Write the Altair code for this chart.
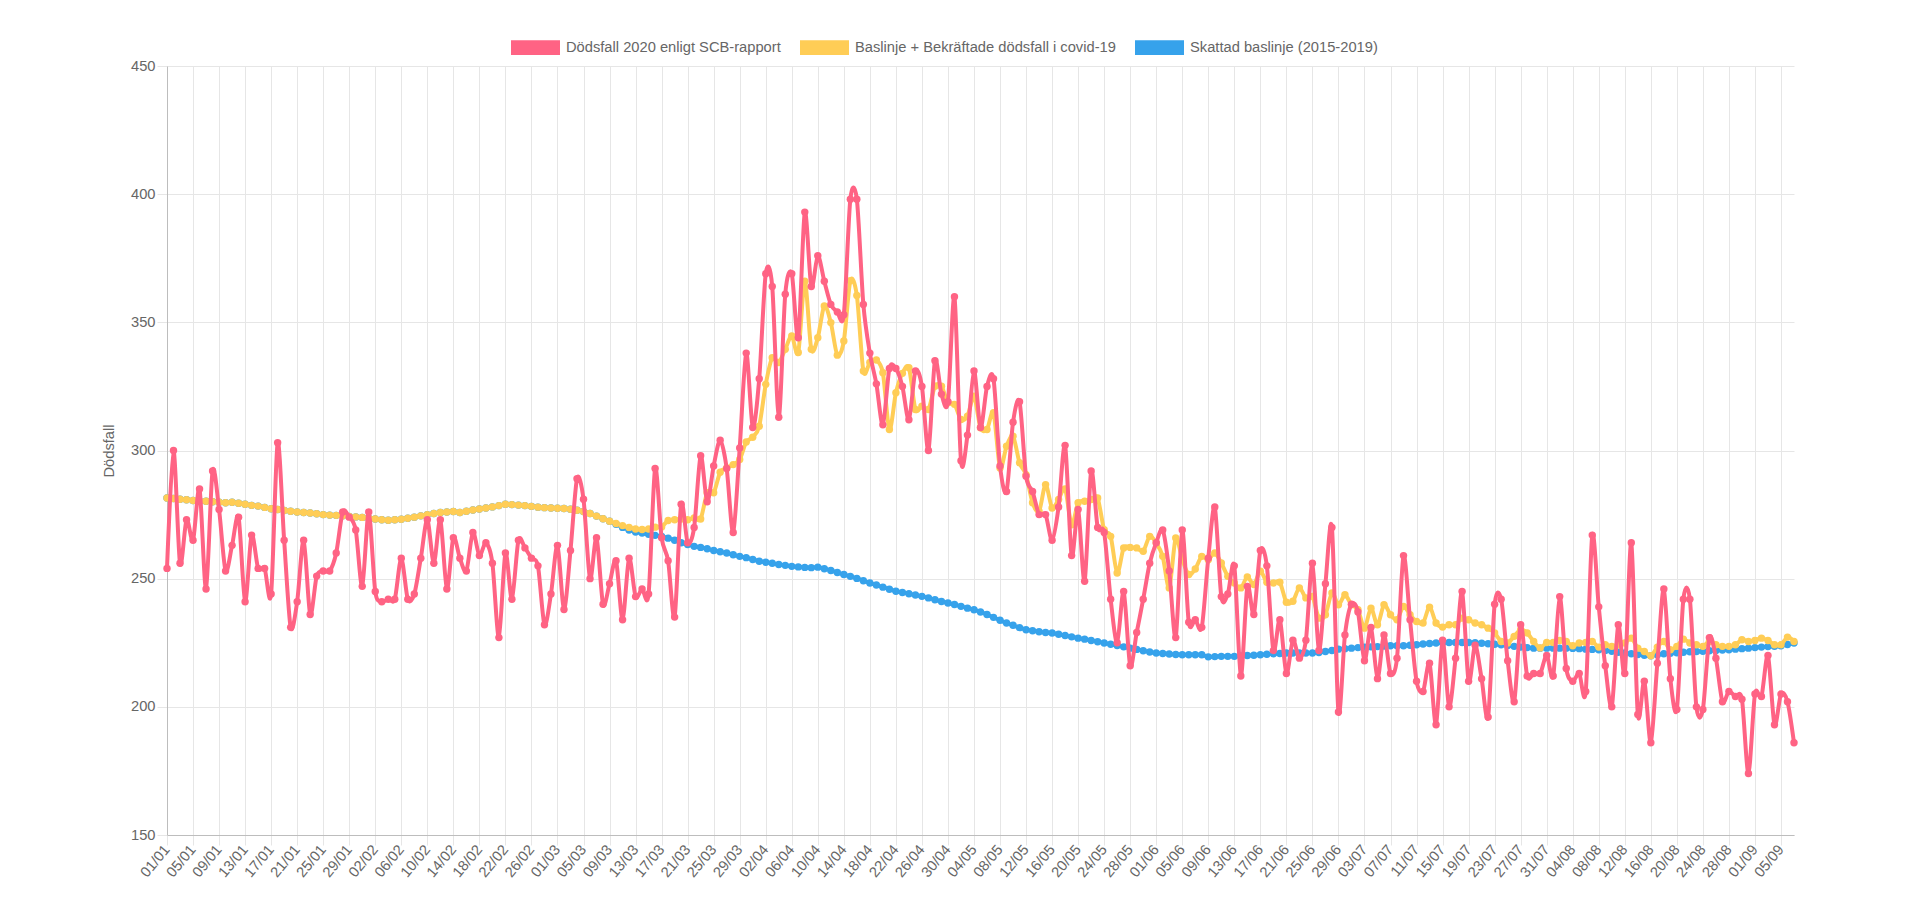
import altair as alt
import pandas as pd

# ---------------- data ----------------
month_days = [31, 29, 31, 30, 31, 30, 31, 31, 30]
date_labels = []
for m, nd in enumerate(month_days, start=1):
    for d in range(1, nd + 1):
        date_labels.append(f"{d:02d}/{m:02d}")
date_labels = date_labels[:251]
tick_labels = date_labels[::4]

y_ticks = [150, 200, 250, 300, 350, 400, 450]

name_red = "Dödsfall 2020 enligt SCB-rapport"
name_yellow = "Baslinje + Bekräftade dödsfall i covid-19"
name_blue = "Skattad baslinje (2015-2019)"

red = [
    254, 300, 256, 273, 265, 285, 246, 292, 277, 253,
    263, 274, 241, 267, 254, 254, 244, 303, 265, 231,
    241, 265, 236, 251, 253, 253, 260, 276, 274, 269,
    247, 276, 245, 241, 242, 242, 258, 242, 244, 258,
    273, 256, 273, 246, 266, 258, 253, 268, 259, 264,
    256, 227, 260, 242, 265, 262, 258, 255, 232, 244,
    263, 238, 261, 289, 281, 250,
    266, 240, 248, 257, 234, 258, 243, 246, 244, 293,
    266, 257, 235, 279, 264, 270, 298, 280, 294, 304,
    293, 268, 301, 338, 309, 328, 369, 364, 313, 361,
    369, 344, 393, 364, 376, 366, 357, 354, 353, 398,
    398, 357, 338, 326, 310, 332, 332, 325, 312, 331,
    325, 300, 335, 322, 319, 360, 296, 306, 331, 309,
    325, 328, 294, 284,
    311, 319, 290, 284, 275, 275, 265, 278, 302, 259,
    277, 249, 292, 270, 268, 242, 225, 245, 216, 229,
    242, 256, 264, 269, 253, 227, 269, 233, 234, 231,
    258, 278, 243, 244, 255, 212, 247, 236, 261, 255,
    222, 234, 213, 226, 219, 226, 256, 222, 248, 270,
    198, 228, 240, 237, 218, 231, 211, 228, 213, 219,
    259, 234, 210,
    206, 217, 193, 226, 200, 219, 245, 210, 224, 211,
    196, 240, 242, 218, 202, 232, 212, 213, 213, 220,
    212, 243, 215, 210, 213, 206, 267, 239, 216, 200,
    232, 213, 264, 197, 210, 186, 217, 246, 211, 199,
    242, 242, 200, 199, 227, 219, 202, 206, 204, 203,
    174, 205, 204, 220, 193, 205, 202, 186,
]

yellow = [
    281.5, 281.3, 281.0, 280.8, 280.5, 280.3, 280.2, 280.0, 279.8, 279.6,
    279.8, 279.4, 279.0, 278.6, 278.3, 277.8, 277.3, 277.0, 276.6, 276.3,
    276.0, 275.8, 275.6, 275.3, 275.0, 274.8, 274.7, 274.5, 274.3, 274.1,
    273.9, 273.6, 273.3, 273.0, 272.8, 273.0, 273.2, 273.6, 274.0, 274.5,
    275.0, 275.4, 275.8, 276.0, 276.2, 275.8, 276.3, 276.8, 277.2, 277.6,
    278.0, 278.5, 279.0, 278.9, 278.7, 278.5, 278.2, 277.9, 277.7, 277.6,
    277.5, 277.4, 277.1, 276.7, 276.2, 275.4,
    274.4, 273.4, 272.4, 271.5, 270.7, 270.0, 269.4, 269.2, 269.4, 270.1,
    270.2, 272.7, 273.0, 273.3, 273.0, 273.7, 273.3,
    283.5, 283.5, 291.5, 293.2, 294.5, 296.5, 303.3, 305.2, 309.5, 325.8,
    336.2, 334.3, 339.5, 344.7, 338.2, 366.0, 339.5, 344.0, 356.4, 349.9,
    337.2, 342.7, 366.2, 360.5, 331.0, 334.3, 335.3, 330.3, 308.2, 322.5,
    330.1, 332.3, 316.0, 317.3, 316.0, 325.1, 325.1, 318.6, 318.0, 312.1,
    313.4, 321.2, 308.9, 308.2, 314.7, 293.2, 301.7,
    305.6, 295.2, 290.6, 279.6, 276.3, 286.7, 277.6, 280.9, 285.0, 271.0,
    279.6, 280.2, 280.9, 281.5, 269.1, 266.5, 252.2, 262.0, 262.2, 262.0,
    260.7, 266.5, 263.9, 258.7, 246.4, 265.9, 257.4, 251.6, 253.8, 258.7,
    257.4, 260.0, 256.1, 250.9, 248.3, 246.4, 250.7, 247.7, 252.9, 248.6,
    248.3, 248.6, 240.8, 241.2, 246.4, 242.5, 243.1, 234.6, 235.9, 244.4,
    239.8, 243.7, 239.8, 237.9, 230.7, 238.5, 232.0, 239.8, 235.9, 234.0,
    239.2, 235.9, 233.3,
    232.7, 238.9, 232.7, 231.1, 232.0, 232.0, 234.6, 234.0, 232.7, 232.0,
    230.7, 228.8, 225.5, 224.9, 227.5, 230.1, 228.8, 225.5, 223.0, 225.1,
    225.1, 225.9, 225.5, 223.8, 224.9, 225.1, 225.5, 223.3, 224.2, 223.6,
    224.2, 224.9, 226.8, 222.9, 221.6, 219.9, 223.3, 225.5, 222.3, 223.6,
    226.4, 224.9, 224.2, 223.6, 225.5, 224.2, 223.6, 223.6, 224.2, 226.2,
    225.5, 225.9, 226.8, 225.9, 224.2, 224.2, 227.2, 225.5,
]

blue = [
    281.5, 281.3, 281.0, 280.8, 280.5, 280.3, 280.2, 280.0, 279.8, 279.6,
    279.8, 279.4, 279.0, 278.6, 278.3, 277.8, 277.3, 277.0, 276.6, 276.3,
    276.0, 275.8, 275.6, 275.3, 275.0, 274.8, 274.7, 274.5, 274.3, 274.1,
    273.9, 273.6, 273.3, 273.0, 272.8, 273.0, 273.2, 273.6, 274.0, 274.5,
    275.0, 275.4, 275.8, 276.0, 276.2, 275.8, 276.3, 276.8, 277.2, 277.6,
    278.0, 278.5, 279.0, 278.9, 278.7, 278.5, 278.2, 277.9, 277.7, 277.6,
    277.5, 277.4, 277.1, 276.7,
    276.2, 275.4, 274.4, 273.4, 272.4, 271.2, 270.0, 269.0, 268.2, 267.8,
    267.3, 266.9, 266.5, 265.8, 265.0, 264.0, 263.3, 262.6, 262.2, 261.7,
    261.0, 260.5, 260.0, 259.3, 258.7, 258.2, 257.5, 256.8, 256.4, 256.0,
    255.5, 255.2, 254.8, 254.6, 254.4, 254.3, 254.5, 253.9, 253.2, 252.4,
    251.6, 250.9, 250.1, 249.2, 248.3, 247.5, 246.7, 245.9, 245.1, 244.6,
    244.1, 243.6, 243.1, 242.5, 241.8, 241.1, 240.5, 239.9, 239.2, 238.5,
    237.9, 237.0, 236.0, 234.9, 233.8, 232.7, 231.8, 230.9, 230.1, 229.7,
    229.3, 229.0, 228.8, 228.3, 227.8, 227.3, 226.8, 226.4, 225.9, 225.4,
    224.9, 224.4, 223.9, 223.4, 222.9, 222.4, 221.9, 221.4, 221.0, 220.8,
    220.6, 220.4, 220.3, 220.3, 220.3, 220.3, 219.5, 219.6, 219.7, 219.7,
    219.7, 219.8, 220.0, 220.1, 220.3, 220.5, 220.7, 220.8, 221.0, 221.0,
    221.0, 221.0, 221.0, 221.2, 221.6, 222.0, 222.5, 222.7, 222.9, 223.1,
    223.3, 223.4, 223.5, 223.7, 223.8, 223.8, 223.8, 224.0, 224.2, 224.5,
    224.7, 224.9, 225.0, 225.1, 225.1, 225.1, 225.1, 225.0, 224.8, 224.6,
    224.4, 224.2, 223.9, 223.6, 223.3, 223.1, 222.9, 222.9, 222.9, 222.9,
    222.9, 222.9, 222.8, 222.7, 222.5, 222.4, 222.3, 222.0, 221.7, 221.3,
    221.0, 220.7, 220.4, 220.1, 219.9, 220.3, 220.7, 220.9, 221.1, 221.3,
    221.5, 221.6, 221.7, 221.9, 222.0, 222.2, 222.3, 222.5, 222.7, 222.9,
    223.1, 223.3, 223.5, 223.6, 223.8, 224.3, 224.9,
]

series_names = [name_red, name_yellow, name_blue]
series_colors = ["#ff6384", "#ffcd56", "#36a2eb"]

rows = []
for name, vals in [(name_red, red), (name_yellow, yellow), (name_blue, blue)]:
    for lab, v in zip(date_labels, vals):
        rows.append({"date": lab, "series": name, "value": v})
df = pd.DataFrame(rows)

FONT = "Liberation Sans"
FS = 14.7
GRID = "#e6e6e6"

x_enc = alt.X(
    "date:N",
    sort=date_labels,
    scale=alt.Scale(type="point", padding=0),
    axis=alt.Axis(
        values=tick_labels, title=None, grid=True, gridColor=GRID,
        labelAngle=-50, labelFontSize=FS, labelFont=FONT, labelColor="#666",
        tickSize=10, tickColor=GRID, labelPadding=2,
        domainColor="#bdbdbd", labelOverlap=False,
    ),
)
y_enc = alt.Y(
    "value:Q",
    scale=alt.Scale(domain=[150, 450], nice=False, zero=False),
    axis=alt.Axis(
        values=y_ticks, title="Dödsfall", grid=True, gridColor=GRID,
        labelFontSize=FS, labelFont=FONT, labelColor="#666",
        titleFont=FONT, titleFontSize=FS, titleColor="#666", titleFontWeight="normal",
        titlePadding=14, tickSize=10, tickColor=GRID, labelPadding=2,
        domainColor="#bdbdbd",
    ),
)

color_scale = alt.Scale(domain=series_names, range=series_colors)
legend = alt.Legend(
    orient="none", legendX=344, legendY=-43, direction="horizontal", title=None,
    symbolType="M-1,-0.3L1,-0.3L1,0.3L-1,0.3Z", symbolSize=2401,
    symbolStrokeWidth=0, symbolOpacity=1,
    labelFontSize=FS, labelFont=FONT, labelColor="#666", labelLimit=600,
    labelOffset=6, columnPadding=19,
)


def series_layer(name):
    base = alt.Chart(df).transform_filter(alt.datum.series == name)
    line = base.mark_line(interpolate="cardinal", tension=0.15, strokeWidth=4).encode(
        x=x_enc, y=y_enc,
        stroke=alt.Stroke("series:N", scale=color_scale, legend=legend),
    )
    pts = base.mark_point(filled=True, size=55, opacity=1).encode(
        x=x_enc, y=y_enc,
        fill=alt.Fill("series:N", scale=color_scale, legend=legend),
    )
    return line + pts


chart = alt.layer(
    series_layer(name_blue),
    series_layer(name_yellow),
    series_layer(name_red),
).properties(
    width=1627, height=769,
    autosize=alt.AutoSizeParams(type="none"),
    padding={"left": 159, "top": 58, "right": 110, "bottom": 60},
).configure_view(stroke=None)

chart.save("out.html", embed_options={"renderer": "svg", "actions": False})
